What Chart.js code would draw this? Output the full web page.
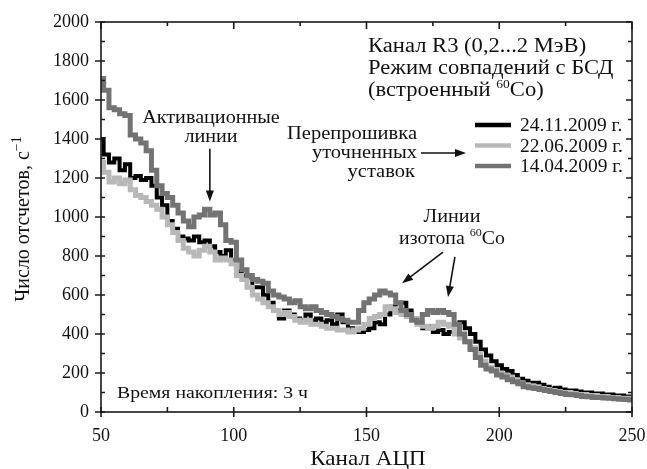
<!DOCTYPE html>
<html>
<head>
<meta charset="utf-8">
<script src="https://cdn.jsdelivr.net/npm/chart.js@4.4.0/dist/chart.umd.min.js"></script>
<style>
    html, body { margin: 0; padding: 0; background: #fff; }
    #wrap { width: 647px; height: 469px; position: relative; }
</style>
</head>
<body>
<div id="wrap"><canvas id="spectrum"></canvas></div>
<script>
// ADC channels (every 2nd channel)
const channels = [
    50, 52, 54, 56, 58, 60, 62, 64, 66, 68, 70, 72, 74, 76, 78, 80, 82, 84, 86, 88,
    90, 92, 94, 96, 98, 100, 102, 104, 106, 108, 110, 112, 114, 116, 118, 120, 122, 124, 126, 128,
    130, 132, 134, 136, 138, 140, 142, 144, 146, 148, 150, 152, 154, 156, 158, 160, 162, 164, 166, 168,
    170, 172, 174, 176, 178, 180, 182, 184, 186, 188, 190, 192, 194, 196, 198, 200, 202, 204, 206, 208,
    210, 212, 214, 216, 218, 220, 222, 224, 226, 228, 230, 232, 234, 236, 238, 240, 242, 244, 246, 248, 250
];

// count rate, 1/s
const rate_24_11_2009 = [
    1400, 1320, 1280, 1300, 1240, 1270, 1200, 1210, 1190, 1200, 1160, 1100, 1060, 980, 940, 900, 890, 880, 900, 870,
    880, 850, 820, 800, 830, 780, 720, 700, 690, 640, 640, 600, 560, 520, 480, 520, 500, 480, 470, 500,
    470, 480, 460, 470, 450, 500, 460, 430, 420, 410, 420, 430, 460, 450, 500, 540, 520, 560, 520, 480,
    460, 430, 440, 410, 420, 400, 410, 450, 460, 430, 400, 360, 320, 290, 260, 240, 220, 210, 190, 170,
    160, 150, 150, 140, 130, 120, 125, 115, 110, 110, 105, 100, 100, 95, 95, 90, 90, 85, 85, 80, 75
];

const rate_22_06_2009 = [
    1280, 1230, 1180, 1200, 1170, 1190, 1140, 1110, 1100, 1080, 1060, 1040, 1000, 960, 920, 880, 840, 820, 800, 830,
    850, 820, 780, 790, 780, 760, 700, 680, 640, 600, 580, 560, 540, 520, 500, 510, 490, 470, 460, 470,
    450, 450, 440, 430, 430, 420, 420, 410, 420, 430, 450, 480, 490, 500, 540, 530, 510, 500, 490, 480,
    450, 440, 430, 440, 460, 450, 440, 400, 380, 360, 330, 300, 260, 230, 215, 200, 190, 180, 165, 150,
    140, 135, 130, 120, 115, 110, 105, 100, 100, 95, 90, 90, 85, 85, 80, 80, 75, 75, 70, 70, 65
];

const rate_14_04_2009 = [
    1710, 1650, 1560, 1550, 1530, 1520, 1420, 1400, 1380, 1340, 1240, 1160, 1120, 1100, 1060, 1020, 980, 950, 1000, 1010,
    1040, 1010, 1020, 960, 880, 870, 780, 730, 700, 680, 670, 660, 620, 600, 590, 580, 560, 570, 540, 530,
    540, 520, 510, 500, 490, 480, 470, 460, 460, 520, 560, 580, 600, 620, 610, 600, 560, 520, 500, 470,
    460, 500, 520, 510, 520, 510, 500, 450, 400, 360, 320, 280, 240, 220, 210, 190, 180, 165, 155, 145,
    130, 125, 120, 115, 110, 105, 100, 95, 90, 88, 85, 80, 78, 75, 75, 72, 70, 68, 66, 64, 62
];

const seriesLabels = ["24.11.2009 г.", "22.06.2009 г.", "14.04.2009 г."];
const seriesColors = ["#000000", "#b8b8b8", "#737373"];
const seriesWidths = [4, 5, 5];

const SERIF = "'Liberation Serif', 'DejaVu Serif', serif";
Chart.defaults.font.family = SERIF;
Chart.defaults.color = "#111";

function toPoints(values) {
    return channels.map((c, i) => ({ x: c, y: values[i] }));
}

// text with superscript parts: parts = [[text, isSup], ...]; k = horizontal stretch
function richText(ctx, parts, x, y, size, align, k = 1, supRatio = 0.62) {
    const supSize = Math.round(size * supRatio);
    let total = 0;
    parts.forEach(([t, sup]) => {
        ctx.font = `${sup ? supSize : size}px ${SERIF}`;
        total += ctx.measureText(t).width;
    });
    total *= k;
    const x0 = align === "right" ? x - total : align === "center" ? x - total / 2 : x;
    ctx.save();
    ctx.translate(x0, y);
    ctx.scale(k, 1);
    ctx.textAlign = "left";
    ctx.textBaseline = "alphabetic";
    let cx = 0;
    parts.forEach(([t, sup]) => {
        ctx.font = `${sup ? supSize : size}px ${SERIF}`;
        ctx.fillText(t, cx, sup ? -size * 0.42 : 0);
        cx += ctx.measureText(t).width;
    });
    ctx.restore();
}

function arrow(ctx, x1, y1, x2, y2) {
    const ang = Math.atan2(y2 - y1, x2 - x1);
    const head = 11, half = 4;
    ctx.beginPath();
    ctx.moveTo(x1, y1);
    ctx.lineTo(x2 - Math.cos(ang) * head * 0.8, y2 - Math.sin(ang) * head * 0.8);
    ctx.stroke();
    ctx.beginPath();
    ctx.moveTo(x2, y2);
    ctx.lineTo(x2 - Math.cos(ang) * head - Math.sin(ang) * half, y2 - Math.sin(ang) * head + Math.cos(ang) * half);
    ctx.lineTo(x2 - Math.cos(ang) * head + Math.sin(ang) * half, y2 - Math.sin(ang) * head - Math.cos(ang) * half);
    ctx.closePath();
    ctx.fill();
}

// frame with tick marks on all four sides + annotations
const framePlugin = {
    id: "frame",
    afterDatasetsDraw(chart) {
        const { ctx, chartArea: a, scales: { x, y } } = chart;
        ctx.save();
        ctx.strokeStyle = "#1a1a1a";
        ctx.lineWidth = 1.6;
        ctx.strokeRect(a.left, a.top, a.right - a.left, a.bottom - a.top);
        ctx.beginPath();
        for (let v = 50; v <= 250; v += 25) {
            const px = x.getPixelForValue(v);
            const major = v % 50 === 0;
            ctx.moveTo(px, a.bottom + (major ? 5 : 0));
            ctx.lineTo(px, a.bottom - 5);
            ctx.moveTo(px, a.top);
            ctx.lineTo(px, a.top + (major ? 7 : 4));
        }
        for (let v = 0; v <= 2000; v += 100) {
            const py = y.getPixelForValue(v);
            const major = v % 200 === 0;
            ctx.moveTo(a.left - (major ? 6 : 0), py);
            ctx.lineTo(a.left + 4, py);
            ctx.moveTo(a.right, py);
            ctx.lineTo(a.right - (major ? 6 : 4), py);
        }
        ctx.stroke();
        ctx.restore();
    },
    afterDraw(chart) {
        const { ctx, scales: { x, y } } = chart;
        ctx.save();
        ctx.fillStyle = "#111";
        ctx.strokeStyle = "#111";
        ctx.lineWidth = 1.6;

        // axis titles
        richText(ctx, [["Канал АЦП", false]], 368, 465, 21, "center", 1.1);
        ctx.save();
        ctx.translate(29, 219);
        ctx.rotate(-Math.PI / 2);
        richText(ctx, [["Число отсчетов, с", false], ["−1", true]], 0, 0, 20, "center", 1, 0.7);
        ctx.restore();

        // header block
        richText(ctx, [["Канал R3 (0,2...2 МэВ)", false]], 368, 52, 20, "left", 1.13);
        richText(ctx, [["Режим совпадений с БСД", false]], 368, 74, 20, "left", 1.13);
        richText(ctx, [["(встроенный ", false], ["60", true], ["Co)", false]], 368, 96, 20, "left", 1.13);

        // legend
        seriesLabels.forEach((lab, i) => {
            const ly = 125 + i * 20.5;
            ctx.strokeStyle = seriesColors[i];
            ctx.lineWidth = 4.5;
            ctx.beginPath();
            ctx.moveTo(475, ly);
            ctx.lineTo(511, ly);
            ctx.stroke();
            richText(ctx, [[lab, false]], 520, ly + 6, 18, "left", 1.08);
        });
        ctx.strokeStyle = "#111";
        ctx.lineWidth = 1.6;
        richText(ctx, [["Перепрошивка", false]], 417, 139, 18, "right", 1.14);
        richText(ctx, [["уточненных", false]], 417, 158, 18, "right", 1.14);
        richText(ctx, [["уставок", false]], 415, 177, 18, "right", 1.14);
        arrow(ctx, 421, 153, 466, 153);

        // activation lines
        richText(ctx, [["Активационные", false]], 211, 123, 18, "center", 1.12);
        richText(ctx, [["линии", false]], 211, 142, 18, "center", 1.12);
        arrow(ctx, x.getPixelForValue(91), y.getPixelForValue(1350), x.getPixelForValue(91), y.getPixelForValue(1080));

        // Co-60 lines
        richText(ctx, [["Линии", false]], 452, 222, 18, "center", 1.12);
        richText(ctx, [["изотопа ", false], ["60", true], ["Co", false]], 452, 244, 18, "center", 1.1);
        arrow(ctx, x.getPixelForValue(178.8), y.getPixelForValue(820), x.getPixelForValue(163.4), y.getPixelForValue(660));
        arrow(ctx, x.getPixelForValue(183.3), y.getPixelForValue(795), x.getPixelForValue(180.7), y.getPixelForValue(590));

        richText(ctx, [["Время накопления: 3 ч", false]], 117, 398, 17.5, "left", 1.13);
        ctx.restore();
    }
};

const datasets = [rate_24_11_2009, rate_22_06_2009, rate_14_04_2009].map((vals, i) => ({
    label: seriesLabels[i],
    data: toPoints(vals),
    borderColor: seriesColors[i],
    borderWidth: seriesWidths[i],
    stepped: "middle",
    pointRadius: 0,
    fill: false,
    order: 2 - i
}));

new Chart(document.getElementById("spectrum"), {
    type: "line",
    data: { datasets },
    options: {
        responsive: true,
        maintainAspectRatio: false,
        animation: false,
        layout: { padding: { left: 0, right: 15, top: 22, bottom: 0 } },
        plugins: { legend: { display: false }, tooltip: { enabled: false } },
        scales: {
            x: {
                type: "linear",
                min: 50, max: 250,
                grid: { display: false, drawTicks: false },
                border: { display: false },
                ticks: { stepSize: 50, padding: 13, color: "#111", font: { size: 18 }, callback: v => String(v) },
                afterFit: s => { s.height = 57; s.paddingLeft = 0; s.paddingRight = 0; }
            },
            y: {
                min: 0, max: 2000,
                grid: { display: false, drawTicks: false },
                border: { display: false },
                ticks: { stepSize: 200, padding: 12, color: "#111", font: { size: 18 }, callback: v => String(v) },
                afterFit: s => { s.width = 101; s.paddingTop = 0; s.paddingBottom = 0; }
            }
        }
    },
    plugins: [framePlugin]
});
</script>
</body>
</html>
